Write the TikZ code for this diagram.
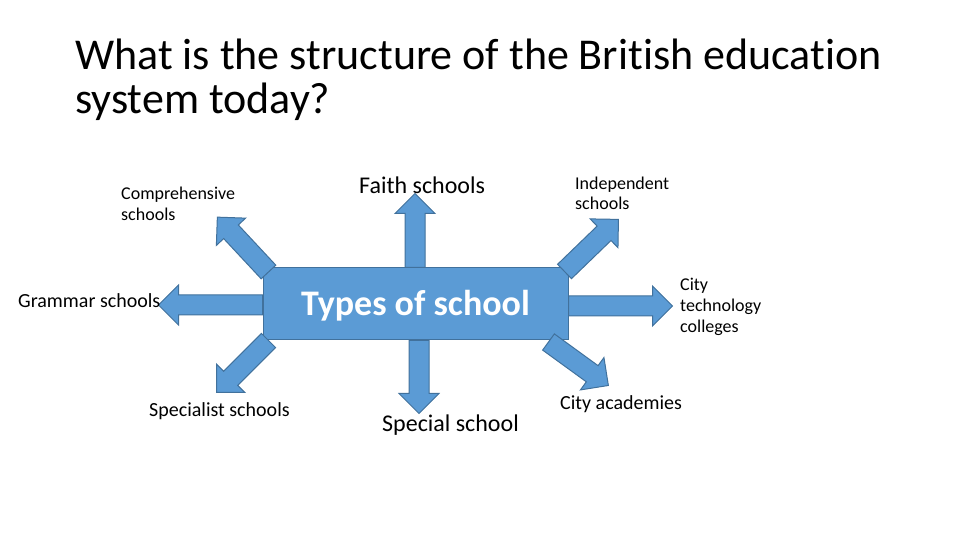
\documentclass[tikz,border=0pt]{standalone}
\usepackage{fontspec}
\setmainfont{Carlito}[Ligatures=NoCommon]
\definecolor{arrfill}{HTML}{5B9BD5}
\definecolor{arrline}{HTML}{41719C}
\tikzset{
  shapestyle/.style={fill=arrfill, draw=arrline, line width=1pt, line join=miter},
  lbl/.style={inner sep=0pt, anchor=base west, text=black},
  barrow/.pic={\path[shapestyle] (0,-10) -- ({#1-20},-10) -- ({#1-20},-20) -- (#1,0) -- ({#1-20},20) -- ({#1-20},10) -- (0,10) -- cycle;}
}
\begin{document}
\begin{tikzpicture}[x=1pt,y=1pt]
\useasboundingbox (0,0) rectangle (960,540);
% title
\node[lbl, font=\fontsize{44}{44}\selectfont, align=left] (title) at (75,426) {What is the structure of the British education\\system today?};
% central box
\node[shapestyle, minimum width=305pt, minimum height=72pt, inner sep=0pt, text=white, font=\fontsize{36}{43}\selectfont\bfseries] (box) at (415.5,236) {\raisebox{-12pt}[0pt][0pt]{Types of school}};
% arrows
\pic[rotate=90] at ([xshift=-0.5pt]box.north) {barrow=74};
\pic[rotate=-90] at ([xshift=3.5pt]box.south) {barrow=73};
\pic[rotate=180] at ([yshift=-1pt]box.west) {barrow=104};
\pic at ([yshift=-2pt]box.east) {barrow=104};
\pic[rotate=133] at ([shift={(6pt,-4.5pt)}]box.north west) {barrow=75};
\pic[rotate=225] at ([shift={(6pt,0pt)}]box.south west) {barrow=73.5};
\pic[rotate=44] at ([shift={(-4pt,-4pt)}]box.north east) {barrow=75};
\pic[rotate=-36] at ([shift={(-20pt,-1.5pt)}]box.south east) {barrow=74};
% labels
\node[lbl, font=\fontsize{18}{21}\selectfont, align=left] (comp) at (121,319.3) {Comprehensive\\schools};
\node[lbl, font=\fontsize{24}{29}\selectfont] (faith) at (359,346) {Faith schools};
\node[lbl, font=\fontsize{18}{20}\selectfont, align=left] (indep) at (575,330) {Independent\\schools};
\node[lbl, font=\fontsize{18}{21.3}\selectfont, align=left] (ctc) at (680,207) {City\\technology\\colleges};
\node[lbl, font=\fontsize{20}{24}\selectfont] (gram) at (18,232) {Grammar schools};
\node[lbl, font=\fontsize{20}{24}\selectfont] (spec) at (149,123) {Specialist schools};
\node[lbl, font=\fontsize{24}{29}\selectfont] (special) at (382,108) {Special school};
\node[lbl, font=\fontsize{20}{24}\selectfont] (acad) at (560,130) {City academies};
\end{tikzpicture}
\end{document}
